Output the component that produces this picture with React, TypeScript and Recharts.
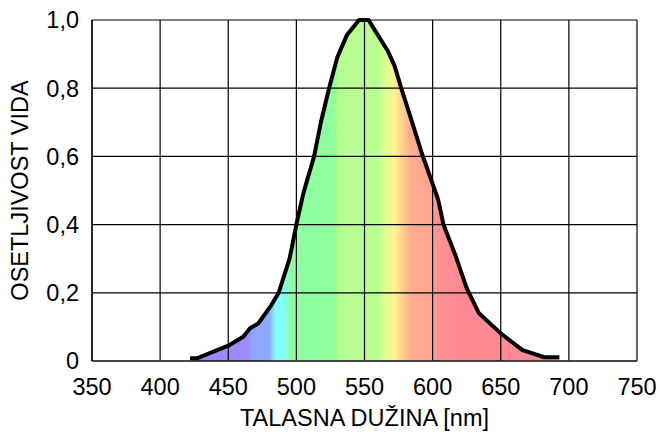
import React from "react";
import { ComposedChart, Area, Line, XAxis, YAxis, CartesianGrid } from "recharts";

// wavelength in nm
const wavelengths = [
  422, 427, 450, 461, 466, 472, 481, 487, 495, 500, 505, 513, 518, 524, 530, 537, 546, 553,
  556, 567, 572, 578, 585, 592, 604, 608, 617, 625, 634, 650, 666, 682, 693,
];
// relative eye sensitivity
const sensitivity = [
  0.008, 0.008, 0.045, 0.071, 0.096, 0.11, 0.16, 0.2, 0.3, 0.4, 0.49, 0.6, 0.7, 0.8, 0.89, 0.955,
  1.0, 1.0, 0.98, 0.91, 0.866, 0.787, 0.7, 0.61, 0.474, 0.4, 0.307, 0.214, 0.14, 0.081, 0.032,
  0.011, 0.011,
];

const xTicks = [350, 400, 450, 500, 550, 600, 650, 700, 750];
const yTicks = [0, 0.2, 0.4, 0.6, 0.8, 1.0];

// spectrum colours under the curve
const stopNm = [420, 463, 468, 480, 485, 490, 496, 528, 531, 560, 566, 572, 578, 584, 600, 603, 615, 700];
const stopColors = [
  "#9b8bff", "#9b8bff", "#8ca6ff", "#8caaff", "#80ffff", "#80ffff", "#8effa0", "#8eff9c",
  "#b5ff90", "#b8ff90", "#e2ff90", "#fff08f", "#ffd08f", "#ffac8f", "#ffa48f", "#ff928f",
  "#ff8a94", "#ff8a94",
];

const data = wavelengths.map((nm, i) => ({ nm, v: sensitivity[i] }));

const minNm = Math.min(...wavelengths);
const maxNm = Math.max(...wavelengths);

const font = "'Liberation Sans', Arial, sans-serif";
const fontSize = 23.5;

const fmtY = (v: number) => (v === 0 ? "0" : v.toFixed(1).replace(".", ","));

const YLabel = (props: any) => {
  const vb = props.viewBox;
  const cx = vb.x + 28;
  const cy = vb.y + vb.height / 2;
  return (
    <text
      x={cx}
      y={cy}
      transform={`rotate(-90, ${cx}, ${cy})`}
      textAnchor="middle"
      fill="#000"
      fontFamily={font}
      fontSize={fontSize}
    >
      OSETLJIVOST VIDA
    </text>
  );
};

export default function App() {
  return (
    <div style={{ position: "absolute", left: 0, top: 0, width: 660, height: 432, background: "#fff" }}>
      <ComposedChart
        width={660}
        height={432}
        data={data}
        margin={{ top: 20, right: 23, bottom: 0, left: 0 }}
      >
        <defs>
          <linearGradient id="spectrum" x1="0" y1="0" x2="1" y2="0">
            {stopNm.map((nm, i) => (
              <stop
                key={i}
                offset={Math.max(0, Math.min(1, (nm - minNm) / (maxNm - minNm)))}
                stopColor={stopColors[i]}
              />
            ))}
          </linearGradient>
        </defs>
        <Area
          type="linear"
          dataKey="v"
          stroke="none"
          fill="url(#spectrum)"
          fillOpacity={1}
          isAnimationActive={false}
        />
        <CartesianGrid stroke="#000" strokeWidth={1.2} zIndex={200} />
        <XAxis
          dataKey="nm"
          type="number"
          domain={[350, 750]}
          ticks={xTicks}
          height={71}
          tickSize={0}
          tickMargin={17}
          axisLine={{ stroke: "#333", strokeWidth: 1.5 }}
          tick={{ fill: "#000", fontSize, fontFamily: font }}
          interval={0}
          label={{
            value: "TALASNA DUŽINA [nm]",
            position: "insideBottom",
            offset: 6,
            fill: "#000",
            fontSize,
            fontFamily: font,
          }}
        />
        <YAxis
          type="number"
          domain={[0, 1]}
          ticks={yTicks}
          width={92}
          tickSize={0}
          tickMargin={13}
          axisLine={{ stroke: "#000", strokeWidth: 1.2 }}
          tick={{ fill: "#000", fontSize, fontFamily: font }}
          tickFormatter={fmtY}
          interval={0}
          label={<YLabel />}
        />
        <Line
          type="linear"
          dataKey="v"
          stroke="#000"
          strokeWidth={4}
          dot={false}
          strokeLinejoin="round"
          isAnimationActive={false}
        />
      </ComposedChart>
    </div>
  );
}
